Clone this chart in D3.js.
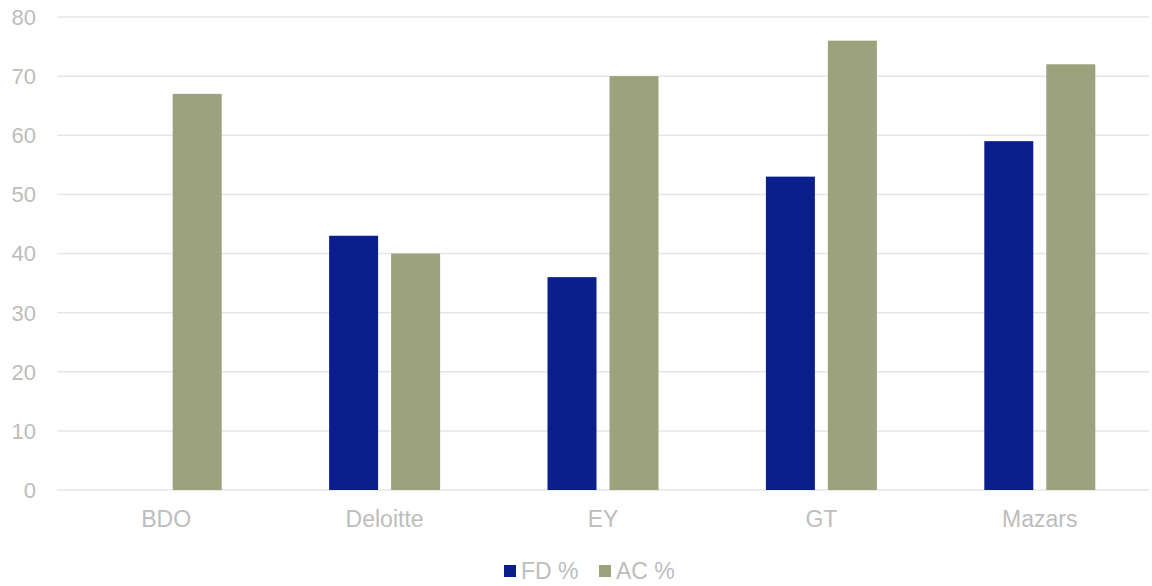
<!DOCTYPE html>
<html>
<head>
<meta charset="utf-8">
<script src="https://cdn.jsdelivr.net/npm/d3@7"></script>
<style>
  body { margin: 0; background: #fff; }
  text { font-family: "Liberation Sans", Arial, sans-serif; fill: #bdbdbd; }
</style>
</head>
<body>
<svg id="chart" width="1152" height="586"></svg>
<script>
const categories = ["BDO", "Deloitte", "EY", "GT", "Mazars"];
const fdValues = [0, 43, 36, 53, 59];
const acValues = [67, 40, 70, 76, 72];
const seriesNames = ["FD %", "AC %"];
const yTicks = [0, 10, 20, 30, 40, 50, 60, 70, 80];

const COLORS = ["#0a1e8c", "#9ca27c"];
const MARGIN = { left: 57, right: 3, top: 17, bottom: 96 };
const WIDTH = 1152, HEIGHT = 586;
const BAR_W = 49, BAR_GAP = 13;

const svg = d3.select("#chart");

const x = d3.scaleBand()
  .domain(categories)
  .range([MARGIN.left, WIDTH - MARGIN.right]);

const y = d3.scaleLinear()
  .domain([0, 80])
  .range([HEIGHT - MARGIN.bottom, MARGIN.top]);

// Grid lines
svg.append("g")
  .selectAll("line")
  .data(yTicks)
  .enter()
  .append("line")
  .attr("x1", MARGIN.left)
  .attr("x2", WIDTH - MARGIN.right)
  .attr("y1", (d) => y(d))
  .attr("y2", (d) => y(d))
  .attr("stroke", "#e6e6e6")
  .attr("stroke-width", 1.5);

// Y labels
svg.append("g")
  .selectAll("text")
  .data(yTicks)
  .enter()
  .append("text")
  .attr("x", 36)
  .attr("y", (d) => y(d))
  .attr("dy", "0.36em")
  .attr("text-anchor", "end")
  .style("font-size", "22px")
  .text((d) => d);

// Bars
const rows = categories.map((c, i) => ({ cat: c, vals: [fdValues[i], acValues[i]] }));
const groups = svg.append("g")
  .selectAll("g")
  .data(rows)
  .enter()
  .append("g")
  .attr("transform", (d) => `translate(${x(d.cat) + x.bandwidth() / 2}, 0)`);

groups.selectAll("rect")
  .data((d) => d.vals.map((v, k) => ({ v, k })))
  .enter()
  .append("rect")
  .attr("x", (d) => d.k === 0 ? -BAR_GAP / 2 - BAR_W : BAR_GAP / 2)
  .attr("width", BAR_W)
  .attr("y", (d) => y(d.v))
  .attr("height", (d) => y(0) - y(d.v))
  .attr("fill", (d) => COLORS[d.k]);

// X labels
svg.append("g")
  .selectAll("text")
  .data(categories)
  .enter()
  .append("text")
  .attr("x", (d) => x(d) + x.bandwidth() / 2)
  .attr("y", 519)
  .attr("dy", "0.36em")
  .attr("text-anchor", "middle")
  .style("font-size", "23px")
  .text((d) => d);

// Legend
const legend = svg.append("g").attr("transform", "translate(504, 571)");
const legendX = [0, 95];
seriesNames.forEach((name, i) => {
  legend.append("rect")
    .attr("x", legendX[i])
    .attr("y", -6)
    .attr("width", 12)
    .attr("height", 12)
    .attr("fill", COLORS[i]);
  legend.append("text")
    .attr("x", legendX[i] + 17)
    .attr("y", 0)
    .attr("dy", "0.36em")
    .style("font-size", "23px")
    .text(name);
});
</script>
</body>
</html>
